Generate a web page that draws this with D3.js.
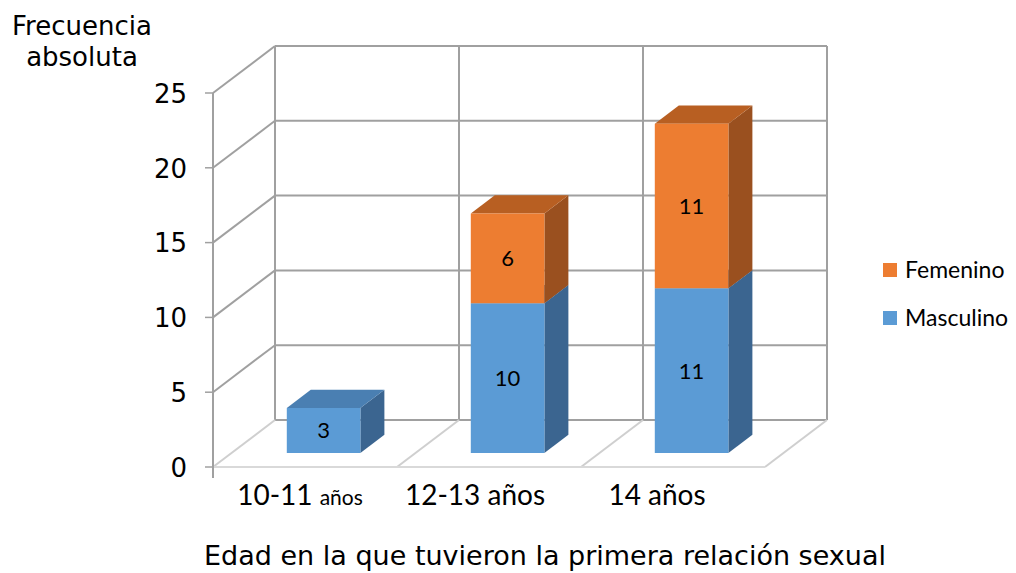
<!DOCTYPE html>
<meta charset="utf-8">
<style>
    body {
        margin: 0;
        background-color: #ffffff;
    }

    .tick-label {
        font: 26px "DejaVu Sans", sans-serif;
        fill: #000;
    }

    .cat-label {
        font-family: Lato, "Open Sans", sans-serif;
        font-size: 28px;
        fill: #000;
    }

    .data-label {
        font: 22px Lato, "Open Sans", sans-serif;
        fill: #000;
    }

    .legend text {
        font: 23px Lato, "Open Sans", sans-serif;
        fill: #000;
    }
</style>

<body>
    <svg width="1016" height="573"></svg>
    <script src="https://d3js.org/d3.v7.min.js"></script>
    <script>
        var categories = ["10-11 años", "12-13 años", "14 años"];
        var masculino = [3, 10, 11];
        var femenino = [0, 6, 11];
        var seriesNames = ["Masculino", "Femenino"];
        var yTicks = [0, 5, 10, 15, 20, 25];

        var svg = d3.select("svg");

        // front plane of the 3d box, depth offset goes up and right
        var left = 213, right = 765, depthX = 62, depthY = -47;

        var x = d3.scaleBand().domain(categories).range([left, right]).padding(0);
        var y = d3.scaleLinear().domain([0, 25]).range([467, 93]);

        var colours = {
            Masculino: { front: "#5B9BD5", top: "#4A7FB2", side: "#3B6590" },
            Femenino: { front: "#ED7D31", top: "#B85F22", side: "#9A501F" }
        };

        // project a point (px, value, depth 0..1)
        function P(px, v, z) {
            return [px + z * depthX, y(v) + z * depthY];
        }

        function line(a, b, col, w) {
            svg.append("line")
                .attr("x1", a[0]).attr("y1", a[1])
                .attr("x2", b[0]).attr("y2", b[1])
                .attr("stroke", col)
                .attr("stroke-width", w || 2);
        }

        var grid = "#A0A0A0", floorCol = "#CFCFCF";

        // back wall + left wall gridlines
        yTicks.forEach(function (t) {
            if (t > 0) {
                line(P(left, t, 1), P(right, t, 1), grid);
                line(P(left, t, 0), P(left, t, 1), grid);
            }
            // tick marks on the axis
            line([left - 8, y(t)], [left, y(t)], grid, 1.5);
        });

        // vertical lines on back wall at category borders
        var borders = categories.map(function (c) { return x(c); }).concat([right]);
        borders.forEach(function (b) {
            line(P(b, 0, 1), P(b, 25, 1), grid);
        });

        // floor
        line(P(left, 0, 1), P(right, 0, 1), grid);
        borders.forEach(function (b, i) {
            if (i > 0) line(P(b, 0, 0), P(b, 0, 1), floorCol);
        });
        line(P(left, 0, 0), P(left, 0, 1), floorCol);
        line(P(left, 0, 0), P(right, 0, 0), "#D9D9D9");

        // y axis line
        line([left, y(25)], [left, y(0) + 11], grid);

        // y tick labels
        svg.selectAll(".tick-label")
            .data(yTicks)
            .enter().append("text")
            .attr("class", "tick-label")
            .attr("x", 187)
            .attr("y", function (d) { return y(d); })
            .attr("dy", "0.38em")
            .attr("text-anchor", "end")
            .text(function (d) { return d; });

        // bars
        var z0 = 0.3, z1 = 0.687;
        var barW = x.bandwidth() * 0.4;

        function poly(pts, fill) {
            svg.append("polygon")
                .attr("points", pts.map(function (p) { return p.join(","); }).join(" "))
                .attr("fill", fill);
        }

        categories.forEach(function (c, i) {
            var cx = x(c) + x.bandwidth() / 2;
            var xl = cx - barW / 2, xr = cx + barW / 2;
            var base = 0;
            [masculino[i], femenino[i]].forEach(function (v, s) {
                if (!v) return;
                var col = colours[seriesNames[s]];
                var lo = base, hi = base + v;
                // side
                poly([P(xr, lo, z0), P(xr, lo, z1), P(xr, hi, z1), P(xr, hi, z0)], col.side);
                // top
                poly([P(xl, hi, z0), P(xr, hi, z0), P(xr, hi, z1), P(xl, hi, z1)], col.top);
                // front
                poly([P(xl, lo, z0), P(xr, lo, z0), P(xr, hi, z0), P(xl, hi, z0)], col.front);
                var m = P(cx, (lo + hi) / 2, z0);
                svg.append("text")
                    .attr("class", "data-label")
                    .attr("x", m[0])
                    .attr("y", m[1])
                    .attr("dy", "0.36em")
                    .attr("text-anchor", "middle")
                    .text(v);
                base = hi;
            });
        });

        // category labels
        var labelShift = [-5, -14, -16];
        categories.forEach(function (c, i) {
            var parts = c.split(" ");
            var t = svg.append("text")
                .attr("class", "cat-label")
                .attr("x", x(c) + x.bandwidth() / 2 + labelShift[i])
                .attr("y", 505)
                .attr("text-anchor", "middle");
            t.append("tspan").text(parts[0] + " ");
            t.append("tspan")
                .style("font-size", i === 0 ? "21px" : "28px")
                .text(parts[1]);
        });

        // axis titles
        var yTitle = svg.append("text")
            .attr("text-anchor", "middle")
            .style("font", "26px 'DejaVu Sans', sans-serif");
        yTitle.append("tspan").attr("x", 82).attr("y", 35).text("Frecuencia");
        yTitle.append("tspan").attr("x", 82).attr("y", 66).text("absoluta");

        svg.append("text")
            .attr("x", 545)
            .attr("y", 565)
            .attr("text-anchor", "middle")
            .style("font", "27px 'DejaVu Sans', sans-serif")
            .text("Edad en la que tuvieron la primera relación sexual");

        // legend
        var legend = svg.append("g").attr("class", "legend");
        seriesNames.slice().reverse().forEach(function (name, i) {
            var gy = 263 + i * 48;
            legend.append("rect")
                .attr("x", 883).attr("y", gy)
                .attr("width", 14).attr("height", 14)
                .attr("fill", colours[name].front);
            legend.append("text")
                .attr("x", 905).attr("y", gy + 15)
                .text(name);
        });
    </script>
</body>
